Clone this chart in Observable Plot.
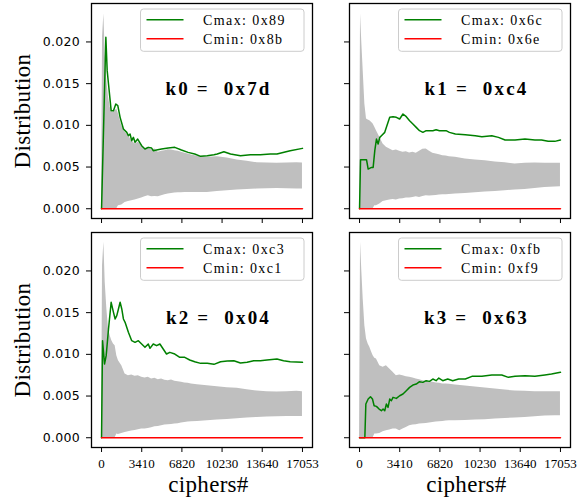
<!DOCTYPE html>
<html><head><meta charset="utf-8">
<script src="https://cdn.jsdelivr.net/npm/d3@7"></script>
<script src="https://cdn.jsdelivr.net/npm/@observablehq/plot@0.6"></script>
<style>
body{margin:0;background:#fff;}
#chart{position:relative;width:581px;height:500px;overflow:hidden;background:#fff;}
#chart svg{position:absolute;overflow:visible;}
</style>
</head><body><div id="chart"></div>
<script>
// ---------- data ----------
const xTicks = [0, 3410, 6820, 10230, 13640, 17053];
const yTicks = [0, 0.005, 0.010, 0.015, 0.020];
const keyLabels = ["k0 =  0x7d", "k1 =  0xc4", "k2 =  0x04", "k3 =  0x63"];
const cmaxLabels = ["Cmax: 0x89", "Cmax: 0x6c", "Cmax: 0xc3", "Cmax: 0xfb"];
const cminLabels = ["Cmin: 0x8b", "Cmin: 0x6e", "Cmin: 0xc1", "Cmin: 0xf9"];

// envelope (grey band) of all other candidates
const bandX = [0, 84, 197, 310, 450, 591, 732, 872, 1013, 1154, 1294, 1435, 1717, 1998, 2279, 2561, 2842, 3124, 3405, 3686, 3968, 4249, 4530, 4812, 5093, 5375, 5656, 5938, 6219, 6500, 6782, 7063, 7345, 7626, 8132, 8977, 9821, 10665, 11509, 12354, 13198, 14042, 14886, 15730, 16574, 17053];

const k0Upper = [0, 0.02056, 0.02336, 0.01856, 0.01536, 0.01336, 0.01216, 0.01156, 0.01156, 0.01176, 0.01196, 0.01136, 0.00996, 0.00916, 0.00876, 0.00816, 0.00776, 0.00796, 0.00756, 0.00716, 0.00736, 0.00704, 0.00716, 0.00676, 0.00688, 0.00696, 0.00708, 0.00704, 0.00696, 0.00688, 0.00676, 0.00664, 0.00656, 0.00644, 0.00628, 0.00616, 0.00624, 0.00608, 0.00584, 0.00568, 0.00552, 0.00548, 0.00544, 0.00548, 0.00552, 0.00548];
const k0Lower = [0, 0, 0, 0, 0, 0, 0, 0, 0, 0, 0, 0.00036, 0.00044, 0.00076, 0.00088, 0.00096, 0.00104, 0.00116, 0.00128, 0.00144, 0.00156, 0.00144, 0.00148, 0.00144, 0.00156, 0.00168, 0.00176, 0.00184, 0.00188, 0.00192, 0.00192, 0.00196, 0.00196, 0.00196, 0.00196, 0.00196, 0.00208, 0.00216, 0.00224, 0.00232, 0.00236, 0.0024, 0.00244, 0.0024, 0.00236, 0.00236];

const k1Upper = [0, 0.02336, 0.01976, 0.01656, 0.01256, 0.01076, 0.01064, 0.01056, 0.01036, 0.01016, 0.00976, 0.00936, 0.00856, 0.00776, 0.00736, 0.00716, 0.00696, 0.00704, 0.00688, 0.00676, 0.00684, 0.00668, 0.00676, 0.00664, 0.00688, 0.00712, 0.00716, 0.00688, 0.00664, 0.00656, 0.00648, 0.00636, 0.00632, 0.00624, 0.00616, 0.00596, 0.00584, 0.00576, 0.0056, 0.00552, 0.00536, 0.00544, 0.00548, 0.00544, 0.00544, 0.00544];
const k1Lower = [0, 0, 0, 0, 0, 0, 0, 0, 0, 0, 0.00036, 0.00036, 0.00056, 0.00088, 0.00096, 0.00104, 0.00112, 0.00104, 0.00116, 0.0012, 0.00128, 0.00128, 0.00136, 0.00144, 0.00136, 0.00148, 0.00156, 0.00152, 0.00156, 0.0016, 0.00164, 0.00168, 0.00168, 0.00172, 0.00176, 0.00184, 0.00192, 0.002, 0.00208, 0.00216, 0.00224, 0.00232, 0.00244, 0.00256, 0.0026, 0.00264];

const k2Upper = [0, 0.02064, 0.02344, 0.01864, 0.01544, 0.01304, 0.01224, 0.01164, 0.01124, 0.01104, 0.00984, 0.00924, 0.00864, 0.00764, 0.00744, 0.00752, 0.00736, 0.00744, 0.00724, 0.00716, 0.00724, 0.00704, 0.00712, 0.00696, 0.00704, 0.00688, 0.00684, 0.00692, 0.00676, 0.00672, 0.00664, 0.00656, 0.00652, 0.00644, 0.00636, 0.00624, 0.00612, 0.006, 0.00592, 0.00576, 0.0056, 0.00552, 0.00548, 0.00552, 0.00556, 0.00552];
const k2Lower = [0, 0, 0, 0, 0, 0, 0, 0, 0, 0, 0.00044, 0.0004, 0.00052, 0.00064, 0.00072, 0.0008, 0.00088, 0.00096, 0.00104, 0.00104, 0.00112, 0.0012, 0.00132, 0.00136, 0.00144, 0.00152, 0.00156, 0.0016, 0.00164, 0.00168, 0.00176, 0.00184, 0.00188, 0.00192, 0.00196, 0.00204, 0.00212, 0.0022, 0.00228, 0.00236, 0.00244, 0.00248, 0.00252, 0.00256, 0.00256, 0.00256];

const k3Upper = [0, 0.02344, 0.01984, 0.01664, 0.01344, 0.01184, 0.01124, 0.01084, 0.01032, 0.00984, 0.00952, 0.00944, 0.00864, 0.00844, 0.00864, 0.00824, 0.00784, 0.00744, 0.00752, 0.00744, 0.00732, 0.00724, 0.00716, 0.00704, 0.00696, 0.00684, 0.00676, 0.00672, 0.00664, 0.00656, 0.00652, 0.00644, 0.00644, 0.0064, 0.00632, 0.0062, 0.00608, 0.00596, 0.00584, 0.00572, 0.0056, 0.00556, 0.00552, 0.00552, 0.00552, 0.00552];
const k3Lower = [0, 0, 0, 0, 0, 0, 0, 0, 0, 0, 0.00044, 0.00044, 0.00052, 0.00072, 0.00084, 0.00092, 0.00104, 0.00104, 0.00084, 0.00104, 0.00124, 0.00144, 0.00152, 0.00156, 0.00164, 0.00168, 0.00172, 0.00176, 0.00184, 0.00188, 0.00192, 0.00196, 0.002, 0.00204, 0.00204, 0.00208, 0.00212, 0.00216, 0.00224, 0.00232, 0.00236, 0.00244, 0.00252, 0.0026, 0.00264, 0.00264];

// Cmax (green) curves
const k0MaxX = [0, 366, 478, 591, 704, 816, 1013, 1210, 1379, 1576, 1857, 2139, 2279, 2420, 2561, 2701, 2842, 3067, 3405, 3686, 3968, 4249, 4390, 4671, 5093, 5656, 6219, 6782, 7345, 7907, 8414, 8977, 9540, 9821, 10384, 10946, 11791, 12635, 13479, 14323, 14886, 16012, 17053];
const k0MaxY = [0, 0.02056, 0.01656, 0.01496, 0.01336, 0.01176, 0.01176, 0.01256, 0.01236, 0.01096, 0.00956, 0.00916, 0.00876, 0.00896, 0.00816, 0.00856, 0.00796, 0.00836, 0.00756, 0.00716, 0.00736, 0.00728, 0.00696, 0.00704, 0.00716, 0.00728, 0.00736, 0.00704, 0.00676, 0.00656, 0.00628, 0.00636, 0.00648, 0.00656, 0.00684, 0.00656, 0.00636, 0.00648, 0.00648, 0.00656, 0.00656, 0.00696, 0.00724];

const k1MaxX = [0, 84, 591, 732, 1013, 1154, 1294, 1435, 1576, 1717, 1857, 2139, 2279, 2561, 2842, 3124, 3405, 3686, 3968, 4249, 4530, 4812, 5093, 5375, 5656, 6219, 6500, 6782, 7345, 7626, 8132, 8977, 9821, 10384, 11228, 11791, 12354, 13198, 14042, 14886, 15449, 16012, 16574, 17053];
const k1MaxY = [0, 0.00588, 0.00588, 0.00476, 0.00496, 0.00496, 0.00696, 0.00836, 0.00776, 0.00856, 0.00876, 0.00916, 0.00976, 0.01096, 0.01104, 0.01096, 0.01076, 0.01136, 0.01104, 0.01056, 0.01016, 0.00976, 0.00936, 0.00916, 0.00936, 0.00936, 0.00948, 0.00936, 0.00936, 0.00916, 0.00896, 0.00888, 0.00876, 0.00864, 0.00876, 0.00856, 0.00824, 0.00824, 0.00836, 0.00824, 0.00824, 0.00808, 0.00808, 0.00824];

const k2MaxX = [0, 84, 253, 394, 591, 816, 1013, 1154, 1294, 1435, 1576, 1717, 1857, 1998, 2279, 2561, 2842, 3124, 3405, 3686, 3968, 4108, 4390, 4671, 4953, 5234, 5515, 5797, 6219, 6641, 7063, 7485, 7907, 8414, 8977, 9540, 10102, 10665, 11228, 11791, 12354, 12917, 13479, 14042, 14886, 15449, 16012, 17053];
const k2MaxY = [0, 0.01164, 0.00884, 0.00984, 0.01304, 0.01624, 0.01504, 0.01424, 0.01464, 0.01544, 0.01624, 0.01544, 0.01424, 0.01384, 0.01264, 0.01164, 0.01144, 0.01164, 0.01124, 0.01084, 0.01124, 0.01072, 0.01124, 0.01104, 0.01124, 0.01064, 0.01004, 0.01024, 0.01004, 0.00964, 0.00964, 0.00932, 0.00912, 0.00892, 0.00892, 0.0088, 0.00912, 0.0092, 0.00924, 0.00896, 0.00904, 0.00924, 0.00924, 0.00932, 0.00944, 0.00924, 0.00912, 0.00904];

const k3MaxX = [0, 450, 535, 732, 929, 1097, 1238, 1435, 1660, 1857, 1998, 2139, 2279, 2420, 2561, 2701, 2842, 3124, 3405, 3686, 3968, 4249, 4530, 4812, 5093, 5375, 5656, 5938, 6219, 6500, 6725, 7063, 7485, 7907, 8414, 8977, 9540, 10384, 11228, 12072, 12635, 13198, 14042, 14886, 15730, 16293, 17053];
const k3MaxY = [0, 0, 0.00404, 0.00464, 0.00492, 0.00464, 0.00384, 0.00376, 0.00344, 0.00324, 0.00344, 0.00324, 0.00404, 0.00364, 0.00464, 0.00444, 0.00484, 0.00472, 0.00504, 0.00524, 0.00564, 0.00604, 0.00632, 0.00644, 0.00672, 0.00664, 0.00684, 0.00676, 0.00704, 0.00684, 0.00716, 0.00684, 0.00704, 0.00684, 0.00704, 0.00704, 0.00736, 0.00736, 0.00752, 0.00752, 0.00724, 0.00736, 0.00744, 0.00736, 0.00752, 0.00764, 0.00784];

// Cmin (red) curve: flat at zero
const cminX = [0, 17053];
const cminY = [0, 0];

// ---------- layout ----------
const panels = [
  {upper: k0Upper, lower: k0Lower, mx: k0MaxX, my: k0MaxY, i: 0, row: 0, col: 0},
  {upper: k1Upper, lower: k1Lower, mx: k1MaxX, my: k1MaxY, i: 1, row: 0, col: 1},
  {upper: k2Upper, lower: k2Lower, mx: k2MaxX, my: k2MaxY, i: 2, row: 1, col: 0},
  {upper: k3Upper, lower: k3Lower, mx: k3MaxX, my: k3MaxY, i: 3, row: 1, col: 1}
];
const chart = document.getElementById("chart");
const serif = "'Liberation Serif', 'Times New Roman', Times, 'DejaVu Serif', serif";
const sans = "'DejaVu Sans', sans-serif";

for (const p of panels) {
  const W = p.col === 0 ? 330 : 251, H = p.row === 0 ? 225 : 275;
  const mL = p.col === 0 ? 91 : 19, mR = p.col === 0 ? 18 : 11;
  const mT = p.row === 0 ? 3 : 7, mB = p.row === 0 ? 7 : 53;
  const band = bandX.map((x, j) => ({x, lo: p.lower[j], hi: p.upper[j]}));
  const cmax = p.mx.map((x, j) => ({x, y: p.my[j]}));
  const cmin = cminX.map((x, j) => ({x, y: cminY[j]}));
  const marks = [
    Plot.areaY(band, {x: "x", y1: "lo", y2: "hi", fill: "#bfbfbf"}),
    Plot.line(cmax, {x: "x", y: "y", stroke: "#008000", strokeWidth: 1.5}),
    Plot.line(cmin, {x: "x", y: "y", stroke: "#ff0000", strokeWidth: 1.6}),
    Plot.frame({stroke: "#000", strokeWidth: 1.3}),
    Plot.axisX({ticks: xTicks, tickSize: 5, tickPadding: 6, label: null,
      fontFamily: serif, fontSize: 13,
      tickFormat: p.row === 1 ? (d => String(d)) : (() => "")}),
    Plot.axisY({ticks: yTicks, tickSize: 5, tickPadding: 6.5, label: null,
      fontFamily: sans, fontSize: 12.5,
      tickFormat: p.col === 0 ? d3.format(".3f") : (() => "")}),
    Plot.text([keyLabels[p.i]], {text: d => d, frameAnchor: "top-left", dx: 127, dy: 91,
      textAnchor: "middle", lineAnchor: "bottom", fontFamily: serif, fontWeight: "bold", fontSize: 19, fill: "#000"})
  ];
  if (p.col === 0) marks.push(Plot.text(["Distribution"], {text: d => d, frameAnchor: "left", dx: -69,
      rotate: -90, textAnchor: "middle", lineAnchor: "middle", fontFamily: serif, fontSize: 23, fill: "#000"}));
  if (p.row === 1) marks.push(Plot.text(["ciphers#"], {text: d => d, frameAnchor: "bottom", dx: 6.5, dy: 44.7,
      textAnchor: "middle", lineAnchor: "bottom", fontFamily: serif, fontSize: 23, fill: "#000"}));

  const svg = Plot.plot({
    width: W, height: H,
    marginLeft: mL, marginRight: mR, marginTop: mT, marginBottom: mB,
    style: {background: "transparent", color: "#000"},
    x: {domain: [-852.65, 17905.65], label: null},
    y: {domain: [-0.00117, 0.02461], label: null},
    marks
  });
  svg.style.left = (p.col === 0 ? 0 : 330) + "px";
  svg.style.top = (p.row === 0 ? 0 : 225) + "px";
  chart.appendChild(svg);

  const s = d3.select(svg);
  s.selectAll('g[aria-label="x-axis tick label"] text').style("font-family", serif).style("font-size", "13px");
  s.selectAll('g[aria-label="y-axis tick label"] text').style("font-family", sans).style("font-size", "12.5px").style("letter-spacing", "0.3px");
  s.selectAll("text").filter(function () { return this.textContent === keyLabels[p.i]; })
    .style("font-family", serif).style("letter-spacing", "2.2px");
  s.selectAll("text").filter(function () { return this.textContent === "ciphers#" || this.textContent === "Distribution"; })
    .style("font-family", serif).style("letter-spacing", "0.3px");

  // legend box
  const g = s.append("g").attr("text-anchor", "start");
  const fx = mL, fy = mT;
  g.append("rect").attr("x", fx + 49.5).attr("y", fy + 6).attr("width", 163.5).attr("height", 42.3)
    .attr("rx", 3).attr("fill", "#fff").attr("fill-opacity", 0.8).attr("stroke", "#cccccc").attr("stroke-width", 1);
  const rows = [[cmaxLabels[p.i], "#008000", 16.7], [cminLabels[p.i], "#ff0000", 35.7]];
  for (const [label, color, yy] of rows) {
    g.append("line").attr("x1", fx + 55.5).attr("x2", fx + 92.5).attr("y1", fy + yy).attr("y2", fy + yy)
      .attr("stroke", color).attr("stroke-width", 1.5);
    g.append("text").attr("x", fx + 112).attr("y", fy + yy).attr("dy", "0.35em")
      .attr("text-anchor", "start").attr("fill", "#000")
      .style("font-family", serif).style("font-size", "14px")
      .style("letter-spacing", "1.4px").text(label);
  }
}
</script></body></html>
